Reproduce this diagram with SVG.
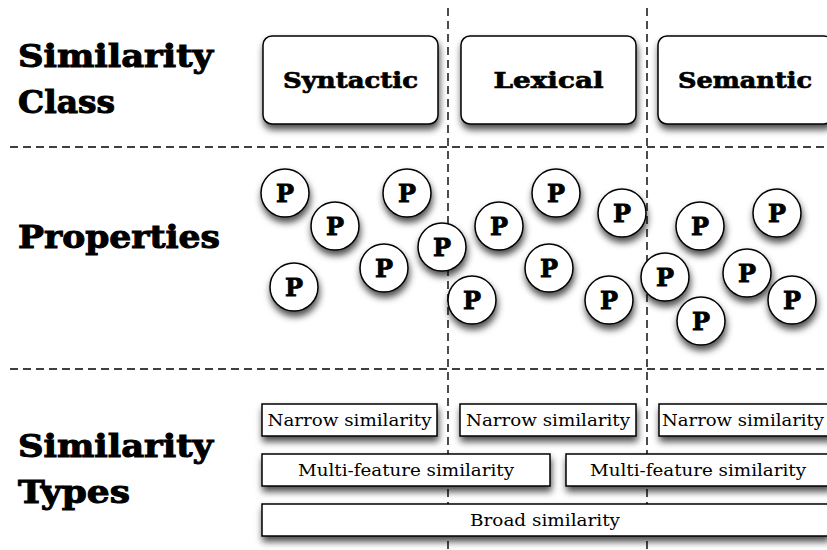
<svg xmlns="http://www.w3.org/2000/svg" width="827" height="550" viewBox="0 0 827 550">
<defs>
<filter id="sh" x="-30%" y="-30%" width="160%" height="180%">
<feDropShadow dx="1" dy="5" stdDeviation="3.5" flood-color="#000" flood-opacity="0.7"/>
</filter>
<style>
.grid{stroke:#000;stroke-width:1.4;stroke-dasharray:8 5;fill:none}
.head{font-family:"DejaVu Serif","Liberation Serif",serif;font-weight:bold;font-size:32px;fill:#000;stroke:#000;stroke-width:1}
.cls rect{fill:#fff;stroke:#000;stroke-width:1.5;filter:url(#sh)}
.cls text{font-family:"DejaVu Serif","Liberation Serif",serif;font-weight:bold;font-size:23px;text-anchor:middle;fill:#000;stroke:#000;stroke-width:0.7}
.p circle{fill:#fff;stroke:#000;stroke-width:1.5;filter:url(#sh)}
.p text{font-family:"DejaVu Serif","Liberation Serif",serif;font-weight:bold;font-size:24px;text-anchor:middle;fill:#000;stroke:#000;stroke-width:0.8}
.t rect{fill:#fff;stroke:#000;stroke-width:1.5;filter:url(#sh)}
.t text{font-family:"DejaVu Serif","Liberation Serif",serif;font-size:17px;text-anchor:middle;fill:#000}
</style>
</defs>
<rect width="827" height="550" fill="#fff"/>
<g id="connectors">
<line class="grid" x1="10" y1="147" x2="827" y2="147"/>
<line class="grid" x1="10" y1="369" x2="827" y2="369"/>
<line class="grid" x1="448" y1="8" x2="448" y2="550"/>
<line class="grid" x1="647" y1="8" x2="647" y2="550"/>
</g>
<g id="labels">
<text class="head" x="18" y="67" textLength="195" lengthAdjust="spacingAndGlyphs">Similarity</text>
<text class="head" x="18" y="113" textLength="97" lengthAdjust="spacingAndGlyphs">Class</text>
<text class="head" x="18" y="248" textLength="202" lengthAdjust="spacingAndGlyphs">Properties</text>
<text class="head" x="18" y="457" textLength="195" lengthAdjust="spacingAndGlyphs">Similarity</text>
<text class="head" x="18" y="503" textLength="112" lengthAdjust="spacingAndGlyphs">Types</text>
</g>
<g id="syntactic" class="cls"><rect x="263" y="36" width="175" height="88" rx="9"/><text x="350.5" y="88" textLength="135" lengthAdjust="spacingAndGlyphs">Syntactic</text></g>
<g id="lexical" class="cls"><rect x="461" y="36" width="175" height="88" rx="9"/><text x="548.5" y="88" textLength="110" lengthAdjust="spacingAndGlyphs">Lexical</text></g>
<g id="semantic" class="cls"><rect x="658" y="36" width="175" height="88" rx="9"/><text x="745" y="88" textLength="134" lengthAdjust="spacingAndGlyphs">Semantic</text></g>
<g id="p1" class="p"><circle cx="285" cy="193" r="24"/><text x="285" y="202">P</text></g>
<g id="p2" class="p"><circle cx="335" cy="226" r="24"/><text x="335" y="235">P</text></g>
<g id="p3" class="p"><circle cx="407" cy="193" r="24"/><text x="407" y="202">P</text></g>
<g id="p4" class="p"><circle cx="384" cy="268" r="24"/><text x="384" y="277">P</text></g>
<g id="p6" class="p"><circle cx="294" cy="287" r="24"/><text x="294" y="296">P</text></g>
<g id="p5" class="p"><circle cx="442" cy="247" r="24"/><text x="442" y="256">P</text></g>
<g id="p7" class="p"><circle cx="472" cy="300" r="24"/><text x="472" y="309">P</text></g>
<g id="p8" class="p"><circle cx="499" cy="226" r="24"/><text x="499" y="235">P</text></g>
<g id="p9" class="p"><circle cx="556" cy="193" r="24"/><text x="556" y="202">P</text></g>
<g id="p10" class="p"><circle cx="622" cy="213" r="24"/><text x="622" y="222">P</text></g>
<g id="p11" class="p"><circle cx="549" cy="268" r="24"/><text x="549" y="277">P</text></g>
<g id="p12" class="p"><circle cx="609" cy="300" r="24"/><text x="609" y="309">P</text></g>
<g id="p13" class="p"><circle cx="700" cy="226" r="24"/><text x="700" y="235">P</text></g>
<g id="p14" class="p"><circle cx="777" cy="213" r="24"/><text x="777" y="222">P</text></g>
<g id="p15" class="p"><circle cx="665" cy="277" r="24"/><text x="665" y="286">P</text></g>
<g id="p16" class="p"><circle cx="747" cy="273" r="24"/><text x="747" y="282">P</text></g>
<g id="p17" class="p"><circle cx="792" cy="300" r="24"/><text x="792" y="309">P</text></g>
<g id="p18" class="p"><circle cx="701" cy="321" r="24"/><text x="701" y="330">P</text></g>
<g id="narrow1" class="t"><rect x="262" y="404" width="175" height="32"/><text x="349.5" y="426" textLength="164" lengthAdjust="spacingAndGlyphs">Narrow similarity</text></g>
<g id="narrow2" class="t"><rect x="460" y="404" width="176" height="32"/><text x="548" y="426" textLength="164" lengthAdjust="spacingAndGlyphs">Narrow similarity</text></g>
<g id="narrow3" class="t"><rect x="659" y="404" width="175" height="32"/><text x="743" y="426" textLength="162" lengthAdjust="spacingAndGlyphs">Narrow similarity</text></g>
<g id="multi1" class="t"><rect x="262" y="454" width="288" height="32"/><text x="406" y="476" textLength="216" lengthAdjust="spacingAndGlyphs">Multi-feature similarity</text></g>
<g id="multi2" class="t"><rect x="566" y="454" width="264" height="32"/><text x="698" y="476" textLength="216" lengthAdjust="spacingAndGlyphs">Multi-feature similarity</text></g>
<g id="broad" class="t"><rect x="262" y="504" width="566" height="32"/><text x="545" y="526" textLength="150" lengthAdjust="spacingAndGlyphs">Broad similarity</text></g>
</svg>
